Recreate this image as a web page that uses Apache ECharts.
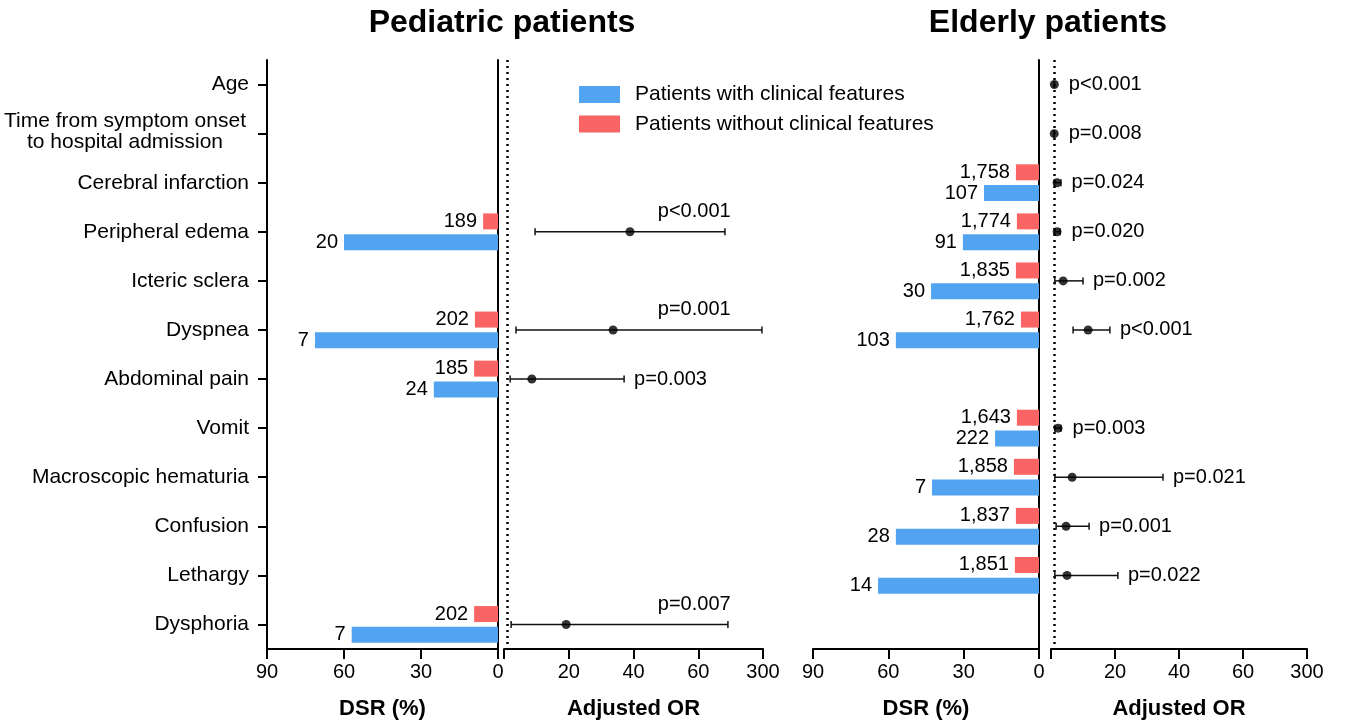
<!DOCTYPE html>
<html><head><meta charset="utf-8">
<script src="https://cdn.jsdelivr.net/npm/echarts@6/dist/echarts.min.js"></script>
<style>html,body{margin:0;padding:0;background:#fff}#c{width:1346px;height:723px}</style>
</head><body><div id="c"></div>
<script>
const categories = ['Age','Time from symptom onset\nto hospital admission','Cerebral infarction','Peripheral edema','Icteric sclera','Dyspnea','Abdominal pain','Vomit','Macroscopic hematuria','Confusion','Lethargy','Dysphoria'];
const orTickLabels = ['0','20','40','60','300'];
const seriesNames = ['Patients with clinical features','Patients without clinical features'];

// Pediatric patients
const pedWithDSR    = [null,null,null,60,null,71.3,25,null,null,null,null,57];
const pedWithN      = [null,null,null,20,null,7,24,null,null,null,null,7];
const pedWithoutDSR = [null,null,null,5.8,null,9,9.3,null,null,null,null,9.3];
const pedWithoutN   = [null,null,null,189,null,202,185,null,null,null,null,202];
const pedOR     = [null,null,null,38.9,null,33.7,8.6,null,null,null,null,19.2];
const pedORLow  = [null,null,null,9.6,null,3.7,1.9,null,null,null,null,2.2];
const pedORHigh = [null,null,null,159,null,296,37.1,null,null,null,null,170];
const pedP = ['','','','p<0.001','','p=0.001','p=0.003','','','','','p=0.007'];

// Elderly patients
const eldWithDSR    = [null,null,21.9,30.3,43,57,null,17.5,42.6,57,64.1,null];
const eldWithN      = [null,null,107,91,30,103,null,222,7,28,14,null];
const eldWithoutDSR = [null,null,9.2,8.8,9.2,7.2,null,8.8,10,9.2,9.6,null];
const eldWithoutN   = [null,null,1758,1774,1835,1762,null,1643,1858,1837,1851,null];
const eldOR     = [1.05,1.01,1.9,1.9,3.8,11.6,null,2.2,6.6,4.7,5.0,null];
const eldORLow  = [1.03,1.0,1.1,1.2,1.2,6.9,null,1.2,1.2,1.6,1.2,null];
const eldORHigh = [1.07,1.02,3.1,2.8,10.0,18.4,null,3.1,35.0,11.9,20.9,null];
const eldP = ['p<0.001','p=0.008','p=0.024','p=0.020','p=0.002','p<0.001','','p=0.003','p=0.021','p=0.001','p=0.022',''];

// label placement (layout, not data)
const pedPSide = ['','','','top','','top','right','','','','','top'];
const eldPSide = eldP.map(() => 'right');

const FONT = '"Liberation Sans", Arial, Helvetica, sans-serif';
const BLUE = '#52A4F0', RED = '#FA6464';

// broken OR axis: 0-60 linear, 60-300 compressed into one 20-unit segment
function orScale(v){ return v <= 60 ? v : 60 + (v - 60) * 20 / 240; }

const chart = echarts.init(document.getElementById('c'));

const nameStyle = {fontWeight:'bold', fontSize:22, color:'#000', fontFamily:FONT};

function dsrXAxis(gi){
  return {type:'value', gridIndex:gi, inverse:true, min:0, max:90, interval:30,
    axisLine:{show:true, onZero:false, lineStyle:{color:'#000', width:2}},
    axisTick:{show:true, length:10, lineStyle:{color:'#000', width:2}},
    axisLabel:{color:'#000', fontSize:20, margin:13, fontFamily:FONT},
    splitLine:{show:false},
    name:'DSR (%)', nameLocation:'middle', nameGap:49, nameTextStyle:nameStyle};
}
function orXAxis(gi){
  return {type:'value', gridIndex:gi, min:0, max:80, interval:20,
    axisLine:{show:true, onZero:false, lineStyle:{color:'#000', width:2}},
    axisTick:{show:true, length:10, lineStyle:{color:'#000', width:2}},
    axisLabel:{color:'#000', fontSize:20, margin:13, fontFamily:FONT,
      formatter: v => v === 0 ? '' : orTickLabels[Math.round(v / 20)]},
    splitLine:{show:false},
    name:'Adjusted OR', nameLocation:'middle', nameGap:49, nameTextStyle:nameStyle};
}
function lineYAxis(gi, pos){
  return {type:'category', gridIndex:gi, inverse:true, data:categories, position:pos,
    axisLine:{show:true, onZero:false, lineStyle:{color:'#000', width:2}},
    axisTick:{show:false}, axisLabel:{show:false}, splitLine:{show:false}};
}
function hiddenYAxis(gi){
  return {type:'category', gridIndex:gi, inverse:true, data:categories, show:false};
}

function barSeries(name, color, vals, ns, xi, yi){
  return {type:'bar', name, xAxisIndex:xi, yAxisIndex:yi, data:vals, barWidth:16, barGap:'30%',
    itemStyle:{color}, animation:false,
    label:{show:true, position:'left', distance:6, color:'#000', fontSize:20, fontFamily:FONT,
      formatter: p => ns[p.dataIndex] == null ? '' : ns[p.dataIndex].toLocaleString('en-US')}};
}

function pointSeries(or, xi, yi){
  const data = [];
  or.forEach((v, i) => { if (v != null) data.push([orScale(v), i]); });
  return {type:'scatter', xAxisIndex:xi, yAxisIndex:yi, data, symbol:'circle', symbolSize:9,
    itemStyle:{color:'#000'}, z:5, animation:false, silent:true,
    markLine:{silent:true, symbol:'none', animation:false, label:{show:false},
      lineStyle:{color:'#000', width:2.5, type:[2,4]}, data:[{xAxis: orScale(1)}]}};
}

function errSeries(or, lo, hi, pLabels, sides, xi, yi){
  const data = [];
  or.forEach((v, i) => { if (v != null) data.push([orScale(lo[i]), orScale(hi[i]), i, orScale(v)]); });
  return {type:'custom', xAxisIndex:xi, yAxisIndex:yi, data, z:4, animation:false, silent:true,
    encode:{x:[0,1,3], y:2},
    renderItem: function(params, api){
      const i = api.value(2);
      const a = api.coord([api.value(0), i]);
      const b = api.coord([api.value(1), i]);
      const p = api.coord([api.value(3), i]);
      const y = a[1], cap = 3.5;
      const st = {stroke:'#111', lineWidth:1.5};
      const children = [
        {type:'line', shape:{x1:a[0], y1:y, x2:b[0], y2:y}, style:st},
        {type:'line', shape:{x1:a[0], y1:y-cap, x2:a[0], y2:y+cap}, style:st},
        {type:'line', shape:{x1:b[0], y1:y-cap, x2:b[0], y2:y+cap}, style:st}
      ];
      const txt = pLabels[i];
      if (txt) {
        let tx, ty, al;
        if (sides[i] === 'top') { tx = api.coord([70, i])[0]; ty = y - 20; al = 'right'; }
        else { tx = Math.max(b[0], p[0] + 4.5) + 10; ty = y; al = 'left'; }
        children.push({type:'text', style:{text:txt, x:tx, y:ty, fill:'#000',
          font:'20px ' + FONT, align:al, verticalAlign:'middle', textAlign:al, textVerticalAlign:'middle'}});
      }
      return {type:'group', children};
    }};
}

const gridBase = {top:60, height:589, outerBoundsMode:'none', containLabel:false};

const option = {
  backgroundColor:'#fff',
  animation:false,
  textStyle:{fontFamily:FONT},
  title:[
    {text:'Pediatric patients', left:502, top:7, padding:0, textAlign:'center',
      textStyle:{fontSize:32, fontWeight:'bold', color:'#000', fontFamily:FONT}},
    {text:'Elderly patients', left:1048, top:7, padding:0, textAlign:'center',
      textStyle:{fontSize:32, fontWeight:'bold', color:'#000', fontFamily:FONT}}
  ],
  legend:{data:seriesNames, orient:'vertical', left:579, top:84, padding:0,
    itemWidth:41, itemHeight:17, itemGap:8.5, icon:'rect', selectedMode:false,
    textStyle:{fontSize:21, color:'#000', fontFamily:FONT, padding:[0,0,0,10]}},
  grid:[
    Object.assign({left:267, width:231}, gridBase),
    Object.assign({left:504, width:259}, gridBase),
    Object.assign({left:813, width:226}, gridBase),
    Object.assign({left:1051, width:256}, gridBase)
  ],
  xAxis:[dsrXAxis(0), orXAxis(1), dsrXAxis(2), orXAxis(3)],
  yAxis:[
    {type:'category', gridIndex:0, inverse:true, data:categories, position:'left',
      axisLine:{show:true, onZero:false, lineStyle:{color:'#000', width:2}},
      axisTick:{show:true, alignWithLabel:true, length:9, lineStyle:{color:'#000', width:2}},
      axisLabel:{color:'#000', fontSize:21, margin:18, fontFamily:FONT, align:'right',
        formatter: v => v.indexOf('\n') >= 0 ? '{c|' + v + '}' : v,
        rich:{c:{width:248, align:'center', fontSize:21, lineHeight:21, color:'#000', fontFamily:FONT, padding:[0,0,4,0]}}},
      splitLine:{show:false}},
    lineYAxis(0, 'right'),
    hiddenYAxis(1),
    lineYAxis(2, 'right'),
    hiddenYAxis(3)
  ],
  series:[
    barSeries(seriesNames[1], RED, pedWithoutDSR, pedWithoutN, 0, 0),
    barSeries(seriesNames[0], BLUE, pedWithDSR, pedWithN, 0, 0),
    pointSeries(pedOR, 1, 2),
    errSeries(pedOR, pedORLow, pedORHigh, pedP, pedPSide, 1, 2),
    barSeries(seriesNames[1], RED, eldWithoutDSR, eldWithoutN, 2, 3),
    barSeries(seriesNames[0], BLUE, eldWithDSR, eldWithN, 2, 3),
    pointSeries(eldOR, 3, 4),
    errSeries(eldOR, eldORLow, eldORHigh, eldP, eldPSide, 3, 4)
  ]
};
chart.setOption(option);
</script></body></html>
